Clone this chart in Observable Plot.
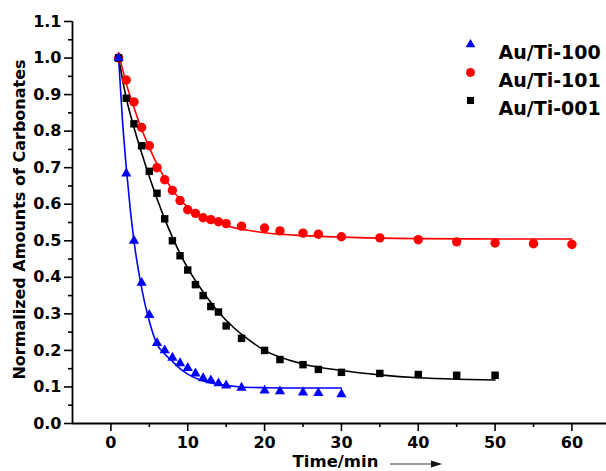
<!DOCTYPE html>
<html>
<head>
<meta charset="utf-8">
<script src="https://cdn.jsdelivr.net/npm/d3@7"></script>
<script src="https://cdn.jsdelivr.net/npm/@observablehq/plot@0.6"></script>
<style>
  html, body { margin: 0; padding: 0; background: #fff; }
  #chart { width: 606px; height: 471px; }
</style>
</head>
<body>
<div id="chart"></div>
<script>
// ---- series names ----
const seriesNames = ["Au/Ti-100", "Au/Ti-101", "Au/Ti-001"];

// ---- measured points ----
const t100 = [1,2,3,4,5,6,7,8,9,10,11,12,13,14,15,17,20,22,25,27,30];
const y100 = [1.0,0.684,0.50,0.385,0.297,0.22,0.20,0.18,0.165,0.152,0.137,0.124,0.118,0.11,0.104,0.098,0.09,0.088,0.085,0.083,0.08];

const t101 = [1,2,3,4,5,6,7,8,9,10,11,12,13,14,15,17,20,22,25,27,30,35,40,45,50,55,60];
const y101 = [1.0,0.94,0.88,0.81,0.76,0.70,0.667,0.638,0.61,0.585,0.575,0.563,0.558,0.552,0.547,0.54,0.535,0.527,0.521,0.518,0.511,0.508,0.503,0.497,0.494,0.492,0.49];

const t001 = [1,2,3,4,5,6,7,8,9,10,11,12,13,14,15,17,20,22,25,27,30,35,40,45,50];
const y001 = [1.0,0.89,0.82,0.76,0.69,0.63,0.56,0.50,0.459,0.42,0.38,0.35,0.32,0.305,0.267,0.233,0.20,0.175,0.161,0.148,0.14,0.137,0.134,0.132,0.132];

// ---- fitted curves ----
const fitT100 = [1,1.5,2,2.5,3,4,5,6,7,8,9,10,12,14,17,20,25,30];
const fitY100 = [1.0,0.83,0.70,0.59,0.50,0.37,0.28,0.217,0.19,0.17,0.15,0.135,0.116,0.107,0.100,0.098,0.097,0.097];

const fitT101 = [1,2,3,4,5,6,7,8,9,10,12,14,16,18,20,25,30,40,50,60];
const fitY101 = [1.015,0.93,0.865,0.805,0.755,0.71,0.672,0.64,0.613,0.592,0.565,0.548,0.536,0.528,0.522,0.514,0.51,0.506,0.505,0.505];

const fitT001 = [1,2,3,4,5,6,7,8,9,10,12,14,16,18,20,25,30,35,40,45,50];
const fitY001 = [1.0,0.89,0.81,0.74,0.675,0.615,0.56,0.51,0.465,0.425,0.36,0.305,0.262,0.228,0.2,0.163,0.145,0.133,0.125,0.121,0.119];

// ---- axis ticks ----
const xMajor = [0,10,20,30,40,50,60];
const xMinor = [5,15,25,35,45,55];
const yMajor = [0,0.1,0.2,0.3,0.4,0.5,0.6,0.7,0.8,0.9,1.0,1.1];
const yMinor = [0.05,0.15,0.25,0.35,0.45,0.55,0.65,0.75,0.85,0.95,1.05];

const xLabel = "Time/min";
const yLabel = "Normalized Amounts of Carbonates";

const colors = ["#0000ff", "#ff0000", "#000000"];
const symbols = ["triangle", "circle", "square"];
const radii = [3.8, 4.7, 4.2];

const zip = (ts, ys) => ts.map((t, i) => ({t, v: ys[i]}));
const pts = [zip(t100, y100), zip(t101, y101), zip(t001, y001)];
const fits = [zip(fitT100, fitY100), zip(fitT101, fitY101), zip(fitT001, fitY001)];

const font = "DejaVu Sans";

const marks = [
  Plot.axisX(xMajor, {tickSize: 8, tickPadding: 5, fontSize: 16, fontWeight: "bold", fontFamily: font, strokeWidth: 1.6, label: null}),
  Plot.axisX(xMinor, {tickSize: 4, tickFormat: () => "", strokeWidth: 1.6, label: null}),
  Plot.axisY(yMajor, {tickSize: 8, tickPadding: 3, tickFormat: d3.format(".1f"), fontSize: 16, fontWeight: "bold", fontFamily: font, strokeWidth: 1.6, label: null}),
  Plot.axisY(yMinor, {tickSize: 4, tickFormat: () => "", strokeWidth: 1.6, label: null}),
  Plot.ruleX([-5], {y1: 0, y2: 1.1, strokeWidth: 1.8}),
  Plot.ruleY([0], {strokeWidth: 1.8}),
];

// fitted lines
[1, 2, 0].forEach(i => {
  marks.push(Plot.line(fits[i], {x: "t", y: "v", stroke: colors[i], strokeWidth: 1.6, curve: "monotone-x"}));
});
// points
[1, 2, 0].forEach(i => {
  marks.push(Plot.dot(pts[i], {x: "t", y: "v", fill: colors[i], symbol: symbols[i], r: radii[i]}));
});
// legend
seriesNames.forEach((name, i) => {
  marks.push(Plot.dot([name], {x: null, y: null, frameAnchor: "top-left", dx: 398, dy: 23 + i * 28, fill: colors[i], symbol: symbols[i], r: radii[i] * 0.95}));
  marks.push(Plot.text([name], {x: null, y: null, text: d => d, frameAnchor: "top-left", dx: 426, dy: 24 + i * 28, textAnchor: "start", fontSize: 19, fontWeight: "bold", fontFamily: font, fill: "black"}));
});
// axis titles
marks.push(Plot.text([yLabel], {x: null, y: null, text: d => d, frameAnchor: "left", textAnchor: "middle", dx: -53, dy: -3, rotate: -90, fontSize: 16, fontWeight: "bold", fontFamily: font, fill: "black"}));
marks.push(Plot.text([xLabel], {x: null, y: null, text: d => d, frameAnchor: "bottom", textAnchor: "middle", dx: -4, dy: 43.5, fontSize: 16.5, fontWeight: "bold", fontFamily: font, fill: "black", letterSpacing: "1px"}));

const chart = Plot.plot({
  width: 606,
  height: 471,
  marginLeft: 72,
  marginRight: 0,
  marginTop: 21,
  marginBottom: 48,
  x: {domain: [-5, 64.5]},
  y: {domain: [0, 1.1]},
  style: {fontFamily: font, fontWeight: "bold", fontSize: "16px", color: "black", background: "white", overflow: "visible"},
  marks
});

// decorative arrow after the x label
const svg = d3.select(chart);
svg.append("line").attr("x1", 390).attr("x2", 432).attr("y1", 464).attr("y2", 464)
  .attr("stroke", "#777").attr("stroke-width", 1.4);
svg.append("path").attr("d", "M442,464 L431,460.5 L431,467.5 Z").attr("fill", "#111");

document.getElementById("chart").appendChild(chart);
</script>
</body>
</html>
